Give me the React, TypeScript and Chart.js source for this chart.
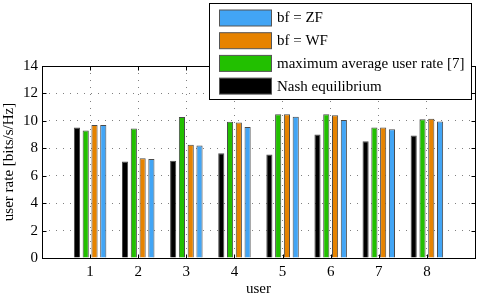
import React, { useEffect, useRef } from "react";
import { Chart, registerables } from "chart.js";

Chart.register(...registerables);

const users = [1, 2, 3, 4, 5, 6, 7, 8];
const nash = [9.51, 7.03, 7.1, 7.64, 7.54, 9.0, 8.52, 8.93];
const maxAvg = [9.29, 9.44, 10.29, 9.93, 10.48, 10.49, 9.51, 10.12];
const bfWF = [9.7, 7.27, 8.25, 9.88, 10.49, 10.41, 9.51, 10.15];
const bfZF = [9.7, 7.22, 8.2, 9.56, 10.3, 10.07, 9.39, 9.95];
const yTicks = [0, 2, 4, 6, 8, 10, 12, 14];

const seriesLabels = ["Nash equilibrium", "maximum average user rate [7]", "bf = WF", "bf = ZF"];
const seriesColors = ["#000000", "#22c000", "#e68300", "#42a5f5"];

const FONT = "'Liberation Serif', 'DejaVu Serif', serif";

const legendPlugin = {
  id: "boxLegend",
  afterDraw(chart: any) {
    const ctx = chart.ctx;
    const ds = chart.data.datasets.slice().reverse();
    const x0 = 209.5, y0 = 3.5, w = 262, h = 96;
    ctx.save();
    ctx.setLineDash([]);
    ctx.fillStyle = "#ffffff";
    ctx.fillRect(x0, y0, w, h);
    ctx.strokeStyle = "#000";
    ctx.lineWidth = 1;
    ctx.strokeRect(x0, y0, w, h);
    ctx.font = "15px " + FONT;
    ctx.textBaseline = "middle";
    ctx.textAlign = "left";
    ds.forEach((d: any, i: number) => {
      const cy = 17.5 + i * 22.7;
      ctx.fillStyle = d.backgroundColor;
      ctx.fillRect(219.5, cy - 7.5, 52, 16);
      ctx.strokeStyle = "#555";
      ctx.strokeRect(219.5, cy - 7.5, 52, 16);
      ctx.fillStyle = "#000";
      ctx.fillText(d.label, 277, cy + 1);
    });
    ctx.restore();
  },
};

const framePlugin = {
  id: "frame",
  afterDatasetsDraw(chart: any) {
    const { left, right, top, bottom } = chart.chartArea;
    const ctx = chart.ctx;
    const L = Math.round(left) + 0.5, R = Math.round(right) + 0.5;
    const T = Math.round(top) + 0.5, B = Math.round(bottom) + 0.5;
    ctx.save();
    ctx.setLineDash([]);
    ctx.strokeStyle = "#000";
    ctx.lineWidth = 1;
    ctx.strokeRect(L, T, R - L, B - T);
    const tl = 4;
    ctx.beginPath();
    chart.scales.x.ticks.forEach((t: any) => {
      const px = Math.round(chart.scales.x.getPixelForValue(t.value)) + 0.5;
      ctx.moveTo(px, B); ctx.lineTo(px, B - tl);
      ctx.moveTo(px, T); ctx.lineTo(px, T + tl);
    });
    chart.scales.y.ticks.forEach((t: any) => {
      const py = Math.round(chart.scales.y.getPixelForValue(t.value)) + 0.5;
      ctx.moveTo(L, py); ctx.lineTo(L + tl, py);
      ctx.moveTo(R, py); ctx.lineTo(R - tl, py);
    });
    ctx.stroke();
    ctx.restore();
  },
};

export default function App() {
  const ref = useRef<HTMLCanvasElement>(null);
  useEffect(() => {
    const series = [nash, maxAvg, bfWF, bfZF];
    const chart = new Chart(ref.current!, {
      type: "bar",
      data: {
        datasets: series.map((vals, si) => ({
          label: seriesLabels[si],
          data: users.map((u, i) => ({ x: u, y: vals[i] })),
          backgroundColor: seriesColors[si],
          borderColor: "#4a4a4a",
          borderWidth: 1,
          categoryPercentage: 0.73,
          barPercentage: 0.7,
        })),
      },
      options: {
        animation: false,
        responsive: false,
        maintainAspectRatio: false,
        layout: { padding: { top: 66, right: 4, left: 0, bottom: 0 } },
        plugins: { legend: { display: false }, tooltip: { enabled: false } },
        scales: {
          x: {
            type: "linear",
            offset: false,
            min: 0,
            max: 9,
            afterFit: (s: any) => { s.height = 40; },
            afterBuildTicks: (s: any) => { s.ticks = [0, ...users, 9].map((v) => ({ value: v })); },
            ticks: {
              callback: (v: any) => (v >= 1 && v <= 8 ? String(v) : ""),
              color: "#000",
              font: { family: FONT, size: 15 },
              padding: 5,
              maxRotation: 0,
            },
            grid: { color: "#808080", lineWidth: 1, drawTicks: false, offset: false },
            border: { display: false, dash: [1, 6] },
            title: { display: true, text: "user", color: "#000", font: { family: FONT, size: 15 }, padding: { top: 0, bottom: 0 } },
          },
          y: {
            min: 0,
            max: 14,
            afterFit: (s: any) => { s.width = 42; },
            afterBuildTicks: (s: any) => { s.ticks = yTicks.map((v) => ({ value: v })); },
            ticks: { color: "#000", font: { family: FONT, size: 15 }, padding: 4 },
            grid: { color: "#808080", lineWidth: 1, drawTicks: false },
            border: { display: false, dash: [1, 6] },
            title: { display: true, text: "user rate [bits/s/Hz]", color: "#000", font: { family: FONT, size: 15 }, padding: { top: 0, bottom: 2 } },
          },
        },
      },
      plugins: [framePlugin, legendPlugin],
    } as any);
    return () => chart.destroy();
  }, []);
  return (
    <div style={{ position: "fixed", left: 0, top: 0, width: 480, height: 298, background: "#fff" }}>
      <canvas ref={ref} width={480} height={298} style={{ width: 480, height: 298 }} />
    </div>
  );
}
